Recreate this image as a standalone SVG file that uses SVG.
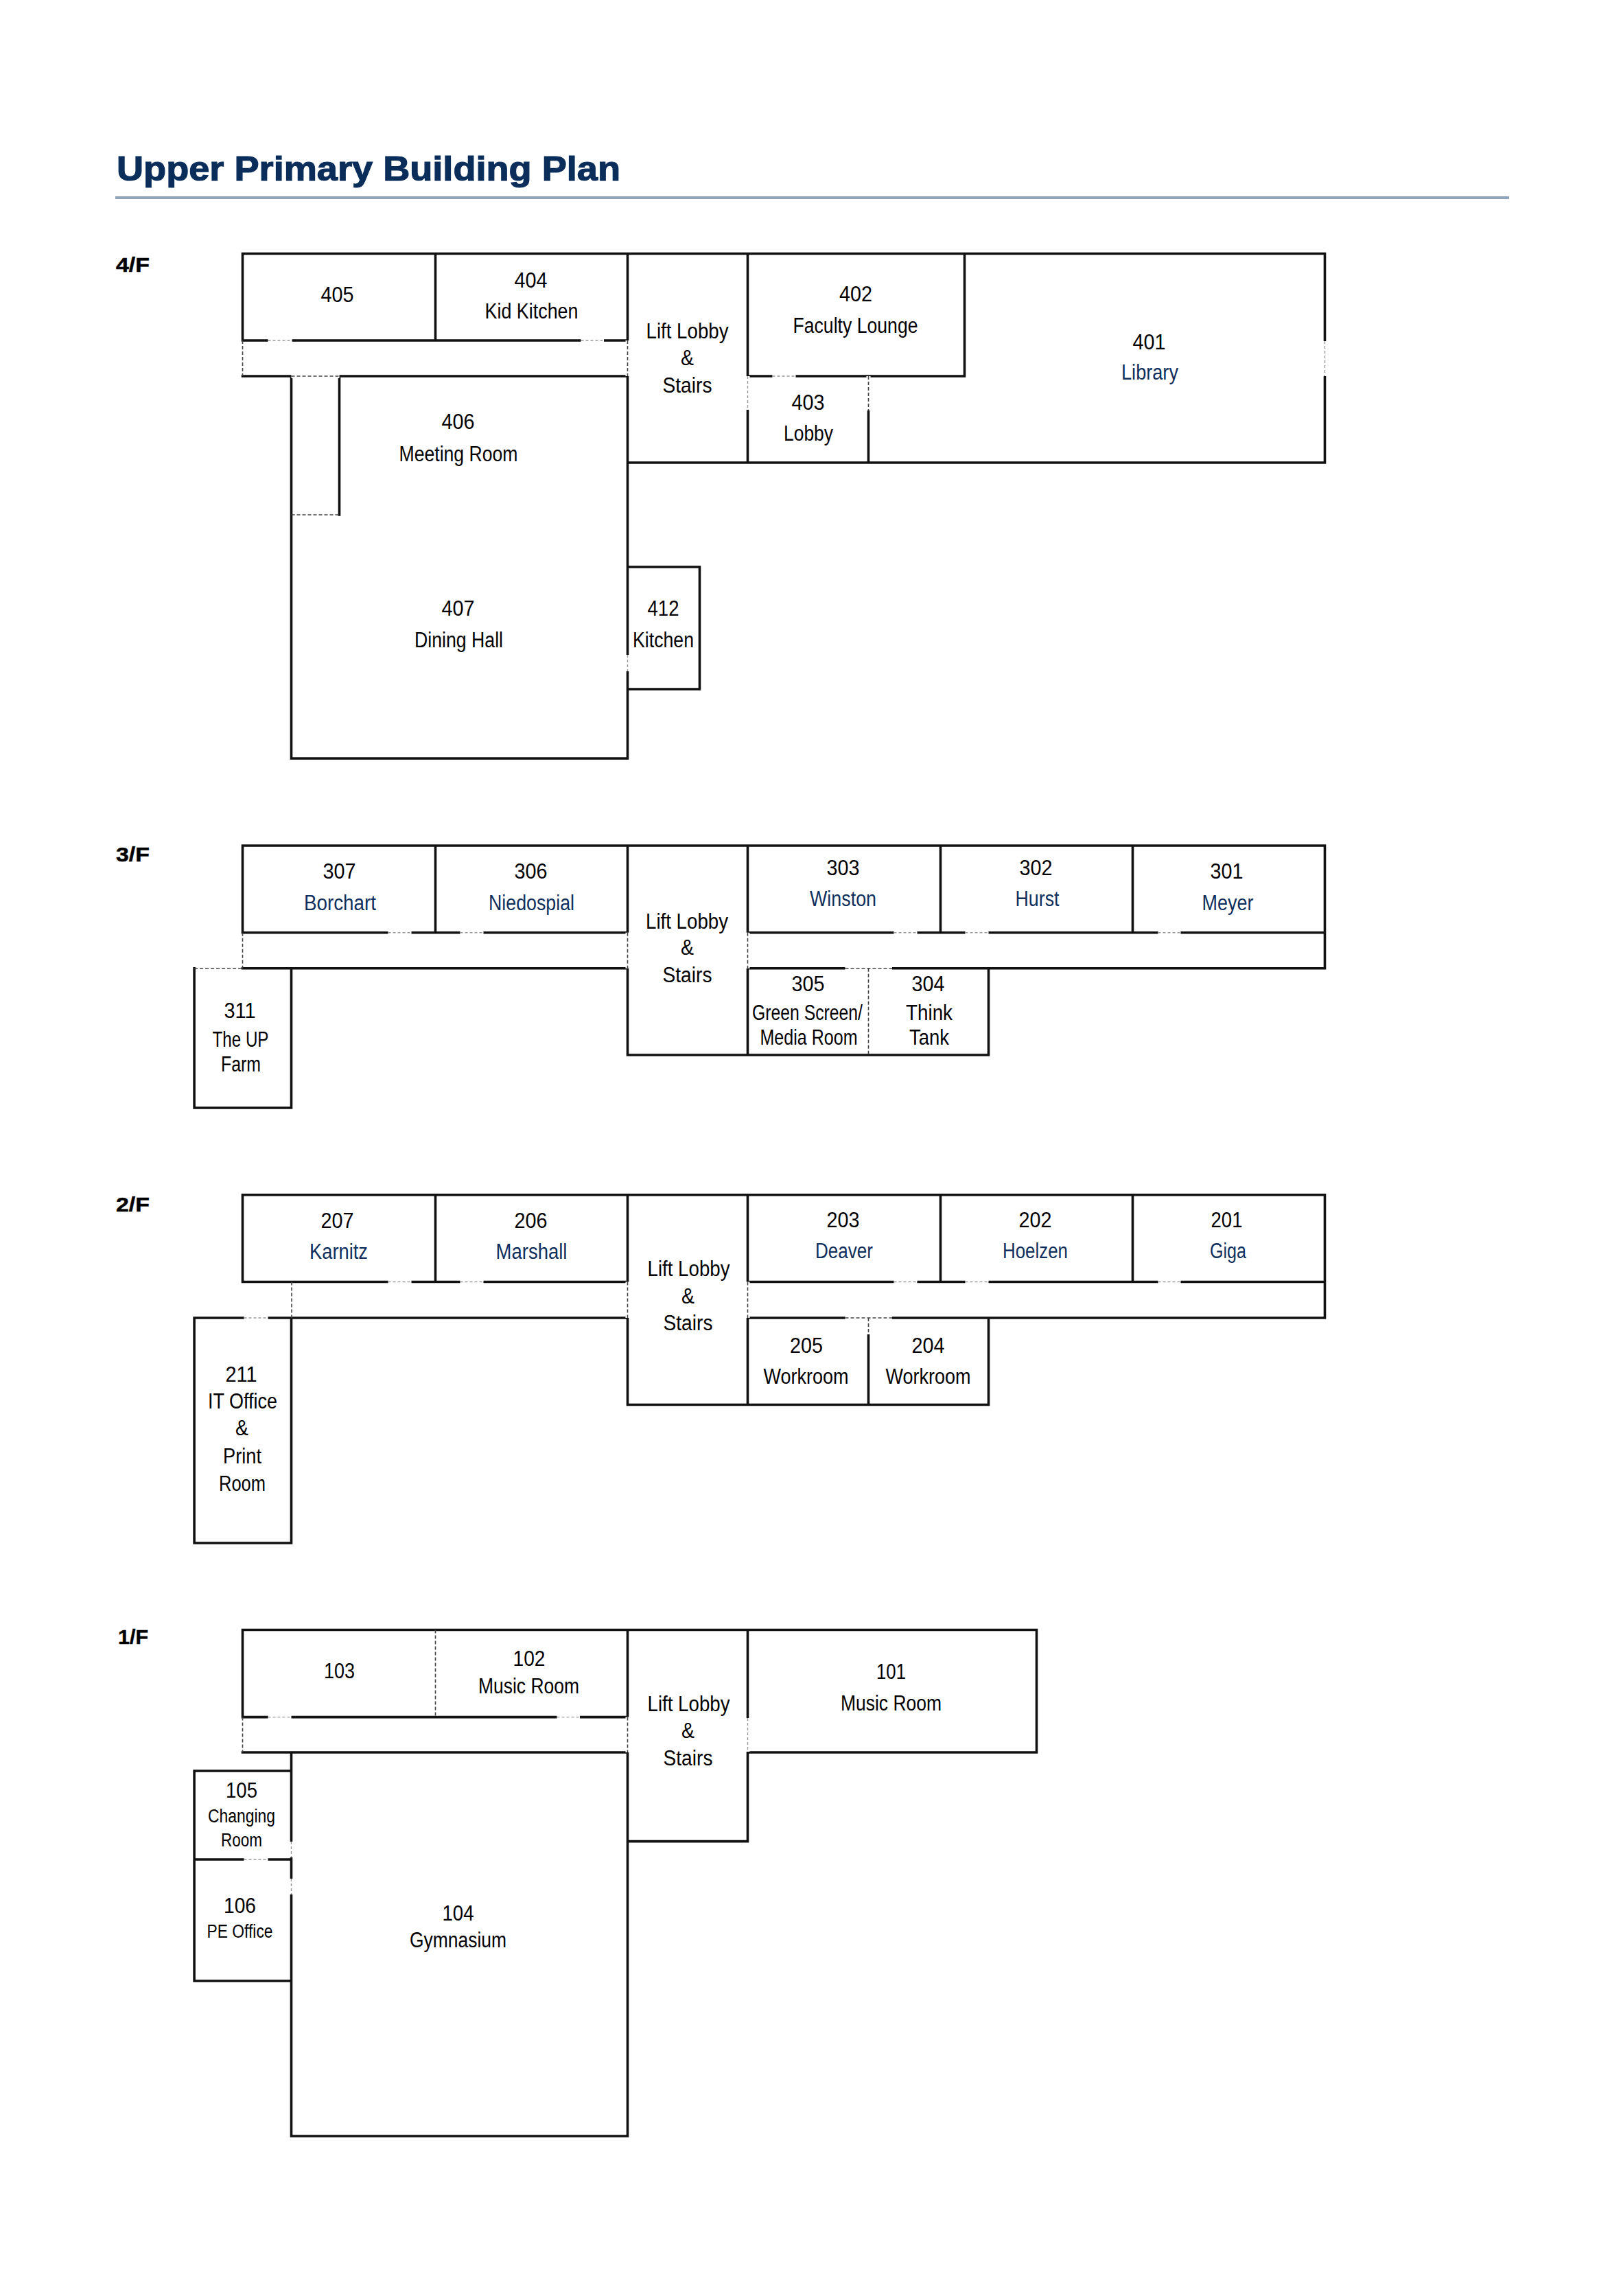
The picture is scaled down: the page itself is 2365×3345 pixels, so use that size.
<svg xmlns="http://www.w3.org/2000/svg" width="2365" height="3345" viewBox="0 0 2365 3345">
<style>
text{font-family:"Liberation Sans",Arial,sans-serif;font-size:31px;fill:#000;text-anchor:middle}
.n{fill:#0f2f5c}
.s{font-size:27px}
.f{font-size:30px;font-weight:bold;text-anchor:start;stroke:#000;stroke-width:.5}
.t{font-size:50px;font-weight:bold;fill:#0a2d5a;stroke:#0a2d5a;stroke-width:1.2;text-anchor:start}
.w{fill:none;stroke:#111;stroke-width:3.6;stroke-linecap:square;stroke-linejoin:miter}
.g{fill:none;stroke:#fff;stroke-width:6}
.d{fill:none;stroke:#444;stroke-width:1.6;stroke-dasharray:5 3}
.l{fill:none;stroke:#999;stroke-width:1.4;stroke-dasharray:4 3}
</style>
<rect width="2365" height="3345" fill="#fff"/>
<g id="header">
<text class="t" x="170" y="263" textLength="734" lengthAdjust="spacingAndGlyphs">Upper Primary Building Plan</text>
<rect x="168" y="286" width="2031" height="4" fill="#8fa3bd"/>
<text class="f" x="169" y="396" textLength="49" lengthAdjust="spacingAndGlyphs">4/F</text>
<text class="f" x="169" y="1255" textLength="49" lengthAdjust="spacingAndGlyphs">3/F</text>
<text class="f" x="169" y="1765" textLength="49" lengthAdjust="spacingAndGlyphs">2/F</text>
<text class="f" x="172" y="2395" textLength="44" lengthAdjust="spacingAndGlyphs">1/F</text>
</g>
<g transform="translate(1.5 0)">
<g id="walls">
<path id="walls-4f" class="w" d="M352 369.5H1929V674H913M352 369.5V496H913M633 369.5V496M913 369.5V1105M352 548H913M423 548V1105H913M493 548V750M1088 369.5V674M1088 548H1404V369.5M1264 548V674M913 826H1018V1004H913"/>
<path id="walls-3f" class="w" d="M352 1232H1929V1410.7H1088M352 1232V1358.7H913M1088 1358.7H1929M633 1232V1358.7M913 1232V1537H1439V1410.7M1088 1232V1537M1369 1232V1358.7M1649 1232V1358.7M352 1410.7H913M281.6 1410.7V1614H423V1410.7"/>
<path id="walls-2f" class="w" d="M352 1740.7H1929V1920H1088M352 1740.7V1867.5H913M1088 1867.5H1929M633 1740.7V1867.5M913 1740.7V2046.5H1439V1920M1088 1740.7V2046.5M1369 1740.7V1867.5M1649 1740.7V1867.5M281.6 1920H913M281.6 1920V2248H423V1920M1264 1920V2046.5"/>
<path id="walls-1f" class="w" d="M352 2374.5H1509V2553H1088M352 2374.5V2501.6H913M913 2374.5V3112H423V2553M352 2553H913M1088 2374.5V2682.6H913M281.6 2580H423V2886H281.6ZM281.6 2709H423"/>
</g>
<g id="connectors">
<path class="g" d="M389 496H424M845 496H878.5M913 496V548M423 548H493M913 954V978M1088 548V597M1124 548H1158M1264 548V598M1929 497V548"/>
<path class="l" d="M389 496H424M845 496H878.5M1124 548H1158M1088 548V597M913 954V978M1929 497V548"/>
<path class="d" d="M352 496V548M913 496V548M423 548H493M423 750H493M1264 548V598"/>
<path class="g" d="M564 1358.7H598M669 1358.7H703M1301 1358.7H1335M1405 1358.7H1439M1686 1358.7H1719M1230 1410.7H1298.5M913 1358.7V1410.7M1088 1358.7V1410.7"/>
<path class="l" d="M564 1358.7H598M669 1358.7H703M1301 1358.7H1335M1405 1358.7H1439M1686 1358.7H1719"/>
<path class="d" d="M352 1358.7V1410.7M913 1358.7V1410.7M1088 1358.7V1410.7M281.6 1410.7H352M1230 1410.7H1298.5M1264 1410.7V1537"/>
<path class="g" d="M564 1867.5H598M669 1867.5H703M1301 1867.5H1335M1405 1867.5H1439M1686 1867.5H1719M354 1920H389M1230 1920H1298.5M913 1867.5V1920M1088 1867.5V1920M1264 1920V1944"/>
<path class="l" d="M564 1867.5H598M669 1867.5H703M1301 1867.5H1335M1405 1867.5H1439M1686 1867.5H1719M354 1920H389"/>
<path class="d" d="M423.5 1867.5V1920M913 1867.5V1920M1088 1867.5V1920M1230 1920H1298.5M1264 1920V1944"/>
<path class="g" d="M389 2501.6H423M810 2501.6H843.5M913 2501.6V2553M1088 2503V2552M354 2709H389M423 2683V2706M423 2737V2760"/>
<path class="l" d="M389 2501.6H423M810 2501.6H843.5M354 2709H389M1088 2503V2552M423 2683V2706M423 2737V2760"/>
<path class="d" d="M633 2374.5V2501.6M352 2501.6V2553M913 2501.6V2553"/>
</g>
<g id="floor-4">
<g id="r405"><text x="490" y="440" textLength="48" lengthAdjust="spacingAndGlyphs">405</text></g>
<g id="r404"><text x="772" y="419" textLength="48" lengthAdjust="spacingAndGlyphs">404</text><text x="773" y="464" textLength="136" lengthAdjust="spacingAndGlyphs">Kid Kitchen</text></g>
<g id="lobby4"><text x="1000" y="493" textLength="120" lengthAdjust="spacingAndGlyphs">Lift Lobby</text><text x="1000" y="532" textLength="19" lengthAdjust="spacingAndGlyphs">&amp;</text><text x="1000" y="572" textLength="72" lengthAdjust="spacingAndGlyphs">Stairs</text></g>
<g id="r406"><text x="666" y="625" textLength="48" lengthAdjust="spacingAndGlyphs">406</text><text x="666.5" y="672" textLength="173" lengthAdjust="spacingAndGlyphs">Meeting Room</text></g>
<g id="r407"><text x="666" y="897" textLength="48" lengthAdjust="spacingAndGlyphs">407</text><text x="667" y="943" textLength="129" lengthAdjust="spacingAndGlyphs">Dining Hall</text></g>
<g id="r412"><text x="965" y="897" textLength="46" lengthAdjust="spacingAndGlyphs">412</text><text x="965" y="943" textLength="89" lengthAdjust="spacingAndGlyphs">Kitchen</text></g>
<g id="r402"><text x="1245.5" y="439" textLength="48" lengthAdjust="spacingAndGlyphs">402</text><text x="1245" y="485" textLength="182" lengthAdjust="spacingAndGlyphs">Faculty Lounge</text></g>
<g id="r401"><text x="1673" y="509" textLength="48" lengthAdjust="spacingAndGlyphs">401</text><text class="n" x="1674" y="553" textLength="83" lengthAdjust="spacingAndGlyphs">Library</text></g>
<g id="r403"><text x="1176" y="597" textLength="48" lengthAdjust="spacingAndGlyphs">403</text><text x="1176.5" y="642" textLength="72" lengthAdjust="spacingAndGlyphs">Lobby</text></g>
</g>
<g id="floor-3">
<g id="r307"><text x="493" y="1280" textLength="48" lengthAdjust="spacingAndGlyphs">307</text><text class="n" x="494" y="1326" textLength="105" lengthAdjust="spacingAndGlyphs">Borchart</text></g>
<g id="r306"><text x="772" y="1280" textLength="48" lengthAdjust="spacingAndGlyphs">306</text><text class="n" x="773" y="1326" textLength="125" lengthAdjust="spacingAndGlyphs">Niedospial</text></g>
<g id="lobby3"><text x="999.5" y="1353" textLength="120" lengthAdjust="spacingAndGlyphs">Lift Lobby</text><text x="1000" y="1391" textLength="19" lengthAdjust="spacingAndGlyphs">&amp;</text><text x="1000" y="1431" textLength="72" lengthAdjust="spacingAndGlyphs">Stairs</text></g>
<g id="r311"><text x="348" y="1483" textLength="46" lengthAdjust="spacingAndGlyphs">311</text><text x="349" y="1525" textLength="82" lengthAdjust="spacingAndGlyphs">The UP</text><text x="349.5" y="1561" textLength="58" lengthAdjust="spacingAndGlyphs">Farm</text></g>
<g id="r303"><text x="1227" y="1275" textLength="48" lengthAdjust="spacingAndGlyphs">303</text><text class="n" x="1227" y="1320" textLength="97" lengthAdjust="spacingAndGlyphs">Winston</text></g>
<g id="r302"><text x="1508" y="1275" textLength="48" lengthAdjust="spacingAndGlyphs">302</text><text class="n" x="1510" y="1320" textLength="64" lengthAdjust="spacingAndGlyphs">Hurst</text></g>
<g id="r301"><text x="1786" y="1280" textLength="48" lengthAdjust="spacingAndGlyphs">301</text><text class="n" x="1787.5" y="1326" textLength="75" lengthAdjust="spacingAndGlyphs">Meyer</text></g>
<g id="r305"><text x="1176" y="1444" textLength="48" lengthAdjust="spacingAndGlyphs">305</text><text x="1175" y="1486" textLength="161" lengthAdjust="spacingAndGlyphs">Green Screen/</text><text x="1177" y="1521.5" textLength="142" lengthAdjust="spacingAndGlyphs">Media Room</text></g>
<g id="r304"><text x="1351" y="1444" textLength="48" lengthAdjust="spacingAndGlyphs">304</text><text x="1352.5" y="1486" textLength="68" lengthAdjust="spacingAndGlyphs">Think</text><text x="1352.5" y="1521.5" textLength="58" lengthAdjust="spacingAndGlyphs">Tank</text></g>
</g>
<g id="floor-2">
<g id="r207"><text x="490" y="1788.5" textLength="48" lengthAdjust="spacingAndGlyphs">207</text><text class="n" x="492" y="1834" textLength="85" lengthAdjust="spacingAndGlyphs">Karnitz</text></g>
<g id="r206"><text x="772" y="1788.5" textLength="48" lengthAdjust="spacingAndGlyphs">206</text><text class="n" x="773" y="1834" textLength="104" lengthAdjust="spacingAndGlyphs">Marshall</text></g>
<g id="lobby2"><text x="1002" y="1859" textLength="120" lengthAdjust="spacingAndGlyphs">Lift Lobby</text><text x="1001" y="1898.5" textLength="19" lengthAdjust="spacingAndGlyphs">&amp;</text><text x="1001" y="1938" textLength="72" lengthAdjust="spacingAndGlyphs">Stairs</text></g>
<g id="r211"><text x="350" y="2013" textLength="46" lengthAdjust="spacingAndGlyphs">211</text><text x="352" y="2052" textLength="101" lengthAdjust="spacingAndGlyphs">IT Office</text><text x="351" y="2091" textLength="19" lengthAdjust="spacingAndGlyphs">&amp;</text><text x="351.5" y="2132" textLength="56" lengthAdjust="spacingAndGlyphs">Print</text><text x="351.5" y="2172" textLength="68" lengthAdjust="spacingAndGlyphs">Room</text></g>
<g id="r203"><text x="1227" y="1788" textLength="48" lengthAdjust="spacingAndGlyphs">203</text><text class="n" x="1228.5" y="1833" textLength="84" lengthAdjust="spacingAndGlyphs">Deaver</text></g>
<g id="r202"><text x="1507" y="1788" textLength="48" lengthAdjust="spacingAndGlyphs">202</text><text class="n" x="1507" y="1833" textLength="95" lengthAdjust="spacingAndGlyphs">Hoelzen</text></g>
<g id="r201"><text x="1786" y="1788" textLength="46" lengthAdjust="spacingAndGlyphs">201</text><text class="n" x="1788" y="1833" textLength="53" lengthAdjust="spacingAndGlyphs">Giga</text></g>
<g id="r205"><text x="1173.5" y="1970.5" textLength="48" lengthAdjust="spacingAndGlyphs">205</text><text x="1173" y="2016" textLength="124" lengthAdjust="spacingAndGlyphs">Workroom</text></g>
<g id="r204"><text x="1351" y="1970.5" textLength="48" lengthAdjust="spacingAndGlyphs">204</text><text x="1351" y="2016" textLength="124" lengthAdjust="spacingAndGlyphs">Workroom</text></g>
</g>
<g id="floor-1">
<g id="r103"><text x="493" y="2445" textLength="45" lengthAdjust="spacingAndGlyphs">103</text></g>
<g id="r102"><text x="769.5" y="2427" textLength="47" lengthAdjust="spacingAndGlyphs">102</text><text x="769" y="2467" textLength="147" lengthAdjust="spacingAndGlyphs">Music Room</text></g>
<g id="lobby1"><text x="1002" y="2493" textLength="120" lengthAdjust="spacingAndGlyphs">Lift Lobby</text><text x="1001" y="2532" textLength="19" lengthAdjust="spacingAndGlyphs">&amp;</text><text x="1001" y="2572" textLength="72" lengthAdjust="spacingAndGlyphs">Stairs</text></g>
<g id="r105"><text x="350.5" y="2618.5" textLength="46" lengthAdjust="spacingAndGlyphs">105</text><text class="s" x="350.5" y="2654.5" textLength="98" lengthAdjust="spacingAndGlyphs">Changing</text><text class="s" x="350.5" y="2690" textLength="60" lengthAdjust="spacingAndGlyphs">Room</text></g>
<g id="r106"><text x="348" y="2786.5" textLength="47" lengthAdjust="spacingAndGlyphs">106</text><text class="s" x="348" y="2823" textLength="96" lengthAdjust="spacingAndGlyphs">PE Office</text></g>
<g id="r104"><text x="666" y="2798" textLength="46" lengthAdjust="spacingAndGlyphs">104</text><text x="666" y="2836.5" textLength="141" lengthAdjust="spacingAndGlyphs">Gymnasium</text></g>
<g id="r101"><text x="1297" y="2446" textLength="43" lengthAdjust="spacingAndGlyphs">101</text><text x="1297" y="2491.5" textLength="147" lengthAdjust="spacingAndGlyphs">Music Room</text></g>
</g>
</g>
</svg>
